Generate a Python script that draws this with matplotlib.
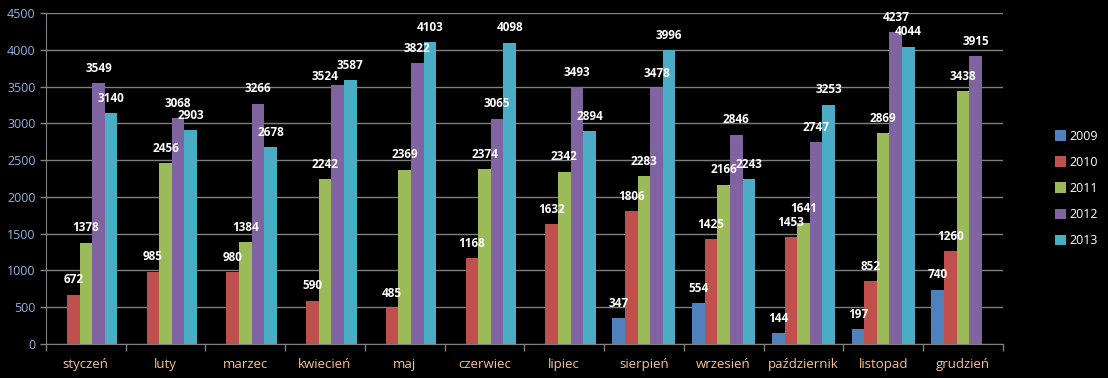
import numpy as np
import matplotlib.pyplot as plt

months = ['styczeń', 'luty', 'marzec', 'kwiecień', 'maj', 'czerwiec',
          'lipiec', 'sierpień', 'wrzesień', 'październik', 'listopad', 'grudzień']
years = ['2009', '2010', '2011', '2012', '2013']

v2009 = [0, 0, 0, 0, 0, 0, 0, 347, 554, 144, 197, 740]
v2010 = [672, 985, 980, 590, 485, 1168, 1632, 1806, 1425, 1453, 852, 1260]
v2011 = [1378, 2456, 1384, 2242, 2369, 2374, 2342, 2283, 2166, 1641, 2869, 3438]
v2012 = [3549, 3068, 3266, 3524, 3822, 3065, 3493, 3478, 2846, 2747, 4237, 3915]
v2013 = [3140, 2903, 2678, 3587, 4103, 4098, 2894, 3996, 2243, 3253, 4044, 0]

series = [v2009, v2010, v2011, v2012, v2013]
colors = ['#4f81bd', '#c0504d', '#9bbb59', '#8064a2', '#4bacc6']

plt.rcParams['font.family'] = ['Open Sans', 'DejaVu Sans']

fig = plt.figure(figsize=(11.08, 3.78), dpi=100, facecolor='black')
ax = fig.add_axes([0.0415, 0.09, 0.8635, 0.8756])
ax.set_facecolor('black')

# labels moved by hand in the original (series index, month index) -> offset in points
nudge = {(3, 3): (-9, 1)}

x = np.arange(len(months))
w = 0.158
for i, (vals, col, yr) in enumerate(zip(series, colors, years)):
    pos = x + (i - 2) * w
    ax.bar(pos, vals, width=w, color=col, label=yr, zorder=3)
    for j, (p, v) in enumerate(zip(pos, vals)):
        if v > 0:
            ax.annotate(str(v), xy=(p, v), xytext=nudge.get((i, j), (0, 6)),
                        textcoords='offset points', ha='center', va='bottom',
                        color='white', fontsize=8.5, fontweight='bold', zorder=4)

ax.set_xlim(-0.5, 11.5)
ax.set_ylim(0, 4500)
ax.set_yticks(range(0, 4501, 500))
ax.yaxis.grid(True, color='#808080', linewidth=1, zorder=0)
ax.tick_params(axis='y', colors='#8db3e2', labelsize=9, length=4, width=1)
ax.tick_params(axis='y', color='#808080')

ax.set_xticks(x)
ax.set_xticklabels(months, color='#fac090', fontsize=9.5)
ax.set_xticks(np.arange(-0.5, 12, 1), minor=True)
ax.tick_params(axis='x', which='major', length=0, pad=10)
ax.tick_params(axis='x', which='minor', length=5, color='#808080', width=1)

for s in ['top', 'right']:
    ax.spines[s].set_visible(False)
ax.spines['left'].set_color('#808080')
ax.spines['bottom'].set_color('#808080')

ax.legend(loc='center left', bbox_to_anchor=(1.045, 0.47), frameon=False,
          fontsize=9, labelcolor='white', handlelength=0.9, handleheight=0.9,
          handletextpad=0.3, labelspacing=1.05, borderpad=0.2)

fig.savefig('out.png', dpi=100, facecolor='black')
